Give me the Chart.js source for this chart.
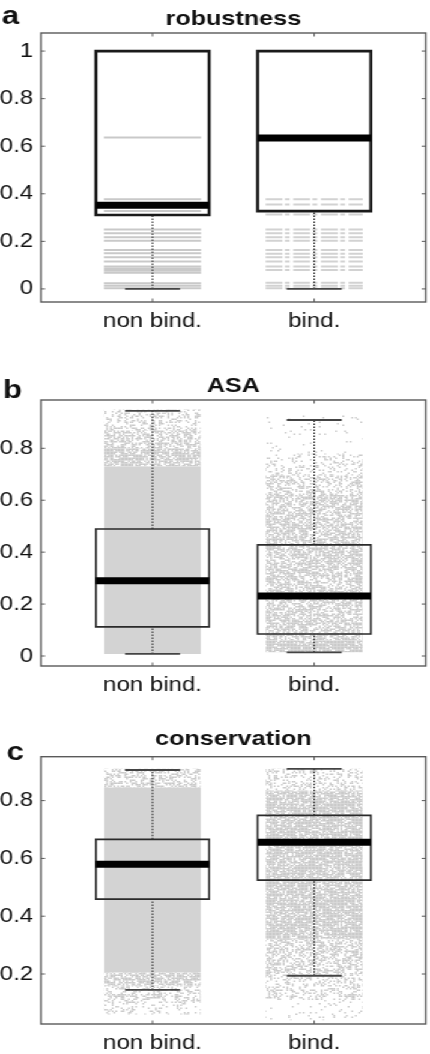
<!DOCTYPE html>
<html><head><meta charset="utf-8">
<script src="https://cdn.jsdelivr.net/npm/chart.js@4/dist/chart.umd.min.js"></script>
<style>
html,body{margin:0;padding:0;background:#fff;overflow:hidden;width:430px;height:1054px}
#wrap{position:absolute;left:0;top:0;width:358px;height:1054px;transform:scaleX(1.2011);transform-origin:0 0}
.panel{position:absolute;left:0;width:358px}
</style></head><body>
<div id="wrap">
<div class="panel" style="top:0;height:345px"><canvas id="ca"></canvas></div>
<div class="panel" style="top:345px;height:355px"><canvas id="cb"></canvas></div>
<div class="panel" style="top:700px;height:354px"><canvas id="cc"></canvas></div>
</div>
<script>
// ---------- data ----------
const categories = ['non bind.', 'bind.'];
const categoryPositions = [1, 2];

// a: robustness
const robTicks = [0, 0.2, 0.4, 0.6, 0.8, 1];
const robWhiskerLow = [0, 0];
const robQ1 = [0.311, 0.327];
const robMedian = [0.352, 0.635];
const robQ3 = [1, 1];
const robWhiskerHigh = [1, 1];
const robLevelsNonBind = [0.637, 0.377, 0.328, 0.25, 0.234, 0.217, 0.203, 0.164, 0.15, 0.133, 0.115, 0.094, 0.085, 0.077, 0.068, 0.024, 0.013, 0.003];
const robLevelsBind = [0.377, 0.355, 0.313, 0.25, 0.234, 0.217, 0.203, 0.164, 0.148, 0.133, 0.115, 0.094, 0.08, 0.026, 0.013, 0.003];

// b: ASA
const asaTicks = [0, 0.2, 0.4, 0.6, 0.8];
const asaWhiskerLow = [0.008, 0.014];
const asaQ1 = [0.112, 0.085];
const asaMedian = [0.29, 0.231];
const asaQ3 = [0.489, 0.428];
const asaWhiskerHigh = [0.944, 0.909];
// point clouds: [from, to, share of area covered by points]
const asaCloudNonBind = [[0.008, 0.73, 1], [0.73, 0.80, 0.72], [0.80, 0.87, 0.5], [0.87, 0.95, 0.32]];
const asaCloudBind = [[0.014, 0.06, 0.85], [0.06, 0.62, 0.62], [0.62, 0.70, 0.42], [0.70, 0.78, 0.2], [0.78, 0.93, 0.03]];

// c: conservation
const consTicks = [0.2, 0.4, 0.6, 0.8];
const consWhiskerLow = [0.145, 0.194];
const consQ1 = [0.459, 0.525];
const consMedian = [0.58, 0.656];
const consQ3 = [0.666, 0.749];
const consWhiskerHigh = [0.906, 0.91];
const consCloudNonBind = [[0.06, 0.10, 0.2], [0.10, 0.16, 0.35], [0.16, 0.205, 0.65], [0.205, 0.845, 1], [0.845, 0.91, 0.45]];
const consCloudBind = [[0.04, 0.11, 0.08], [0.11, 0.2, 0.3], [0.2, 0.32, 0.52], [0.32, 0.835, 0.78], [0.835, 0.91, 0.3]];

// ---------- styling helpers ----------
const BOX_HW = 0.35, CLOUD_HW = 0.30, CAP_HW = 0.17;
Chart.defaults.font.family = '"Liberation Sans", Arial, Helvetica, sans-serif';

function hash(i, j) {
  let n = (Math.imul(i, 374761393) + Math.imul(j, 668265263)) | 0;
  n = Math.imul(n ^ (n >>> 13), 1274126177);
  n ^= n >>> 16;
  return (n >>> 0) / 4294967296;
}
function speckle(density) {
  if (density >= 1) return '#d3d3d3';
  const c = document.createElement('canvas');
  c.width = c.height = 96;
  const g = c.getContext('2d');
  g.fillStyle = '#cacaca';
  const cell = 1.5;
  for (let i = 0; i < 64; i++) for (let j = 0; j < 64; j++) if (hash(i, j) < density) g.fillRect(i * cell, j * cell, cell, cell);
  return g.createPattern(c, 'repeat');
}

function seg(data, color, width, order, extra) {
  return Object.assign({ data, borderColor: color, borderWidth: width, pointRadius: 0, fill: false, tension: 0, order, spanGaps: false }, extra || {});
}

function buildDatasets(p) {
  const ds = [];
  categoryPositions.forEach((c, i) => {
    (p.clouds ? p.clouds[i] : []).forEach(([lo, hi, d]) => {
      ds.push(seg([{ x: c - CLOUD_HW, y: hi }, { x: c + CLOUD_HW, y: hi }], 'rgba(0,0,0,0)', 1, 10,
        { fill: { value: lo }, backgroundColor: speckle(d) }));
    });
    if (p.levels) {
      const pts = [];
      p.levels[i].forEach(v => { pts.push({ x: c - CLOUD_HW, y: v }, { x: c + CLOUD_HW, y: v }, { x: c, y: null }); });
      ds.push(seg(pts, i === 1 ? '#d2d2d2' : '#c9c9c9', 2, 8, i === 1 ? { borderDash: [14, 2, 4, 3] } : {}));
    }
    ds.push(seg([{ x: c, y: p.q3[i] }, { x: c, y: p.wh[i] }, { x: c, y: null }, { x: c, y: p.wl[i] }, { x: c, y: p.q1[i] }],
      '#333', 1.2, 5, { borderDash: [1.5, 1.5] }));
    ds.push(seg([{ x: c - CAP_HW, y: p.wh[i] }, { x: c + CAP_HW, y: p.wh[i] }, { x: c, y: null }, { x: c - CAP_HW, y: p.wl[i] }, { x: c + CAP_HW, y: p.wl[i] }],
      '#444', 1.8, 4));
    ds.push(seg([{ x: c - BOX_HW, y: p.q1[i] }, { x: c + BOX_HW, y: p.q1[i] }, { x: c + BOX_HW, y: p.q3[i] }, { x: c - BOX_HW, y: p.q3[i] }, { x: c - BOX_HW, y: p.q1[i] }],
      p.boxColor, p.boxWidth, 3, { borderJoinStyle: 'miter', borderCapStyle: 'square' }));
    ds.push(seg([{ x: c - BOX_HW, y: p.med[i] }, { x: c + BOX_HW, y: p.med[i] }], '#000', 7, 1, { borderCapStyle: 'butt' }));
  });
  return ds;
}

const framePlugin = {
  id: 'frame',
  afterDraw(chart, args, o) {
    const { ctx, chartArea: a, scales: { x, y } } = chart;
    ctx.save();
    ctx.strokeStyle = '#5a5a5a';
    ctx.lineWidth = 1.4;
    ctx.strokeRect(a.left, a.top, a.right - a.left, a.bottom - a.top);
    ctx.lineWidth = 1;
    ctx.beginPath();
    y.ticks.forEach(t => {
      const py = y.getPixelForValue(t.value);
      ctx.moveTo(a.left, py); ctx.lineTo(a.left + 3.5, py);
      ctx.moveTo(a.right, py); ctx.lineTo(a.right - 3.5, py);
    });
    x.ticks.forEach(t => {
      const px = x.getPixelForValue(t.value);
      ctx.moveTo(px, a.bottom); ctx.lineTo(px, a.bottom - 3.5);
      ctx.moveTo(px, a.top); ctx.lineTo(px, a.top + 3.5);
    });
    ctx.stroke();
    ctx.fillStyle = '#111';
    ctx.textBaseline = 'alphabetic';
    ctx.font = 'bold 21px "Liberation Sans", Arial, sans-serif';
    ctx.textAlign = 'center';
    ctx.fillText(o.title, (a.left + a.right) / 2, o.titleY);
    ctx.font = 'bold 26px "Liberation Sans", Arial, sans-serif';
    ctx.textAlign = 'left';
    ctx.fillText(o.letter, o.letterX, o.letterY);
    ctx.restore();
  }
};

function makeChart(id, p) {
  return new Chart(document.getElementById(id), {
    type: 'line',
    data: { datasets: buildDatasets(p) },
    options: {
      responsive: true, maintainAspectRatio: false, animation: false,
      events: [],
      layout: { padding: { top: p.padTop, right: 2.5, bottom: 0, left: 0 } },
      plugins: { legend: { display: false }, tooltip: { enabled: false },
        frame: { title: p.title, titleY: p.titleY, letter: p.letter, letterX: p.letterX, letterY: p.letterY } },
      scales: {
        x: {
          type: 'linear', min: 0.31, max: 2.69,
          grid: { display: false, drawTicks: false }, border: { display: false },
          afterBuildTicks: s => { s.ticks = categoryPositions.map(v => ({ value: v })); },
          afterFit: s => { s.height = p.xAxisH; },
          ticks: { padding: 7, maxRotation: 0, minRotation: 0, autoSkip: false, color: '#111',
            font: { size: 20 }, callback: (v, i) => categories[i] }
        },
        y: {
          type: 'linear', min: p.yMin, max: p.yMax,
          grid: { display: false, drawTicks: false }, border: { display: false },
          afterBuildTicks: s => { s.ticks = p.ticks.map(v => ({ value: v })); },
          afterFit: s => { s.width = 34.1; },
          ticks: { padding: 6.5, color: '#111', font: { size: 20 }, callback: v => String(+(+v).toFixed(2)) }
        }
      }
    },
    plugins: [framePlugin]
  });
}

makeChart('ca', {
  title: 'robustness', titleY: 25, letter: 'a', letterX: 1.5, letterY: 23.5,
  padTop: 33, xAxisH: 43, yMin: -0.055, yMax: 1.076, ticks: robTicks,
  wl: robWhiskerLow, q1: robQ1, med: robMedian, q3: robQ3, wh: robWhiskerHigh,
  levels: [robLevelsNonBind, robLevelsBind], boxColor: '#1a1a1a', boxWidth: 2.6
});
makeChart('cb', {
  title: 'ASA', titleY: 46.7, letter: 'b', letterX: 2.5, letterY: 52.5,
  padTop: 55, xAxisH: 34, yMin: -0.0385, yMax: 0.986, ticks: asaTicks,
  wl: asaWhiskerLow, q1: asaQ1, med: asaMedian, q3: asaQ3, wh: asaWhiskerHigh,
  clouds: [asaCloudNonBind, asaCloudBind], boxColor: '#2a2a2a', boxWidth: 1.6
});
makeChart('cc', {
  title: 'conservation', titleY: 45, letter: 'c', letterX: 5.5, letterY: 60,
  padTop: 56.7, xAxisH: 30, yMin: 0.027, yMax: 0.952, ticks: consTicks,
  wl: consWhiskerLow, q1: consQ1, med: consMedian, q3: consQ3, wh: consWhiskerHigh,
  clouds: [consCloudNonBind, consCloudBind], boxColor: '#2a2a2a', boxWidth: 1.6
});
</script>
</body></html>
